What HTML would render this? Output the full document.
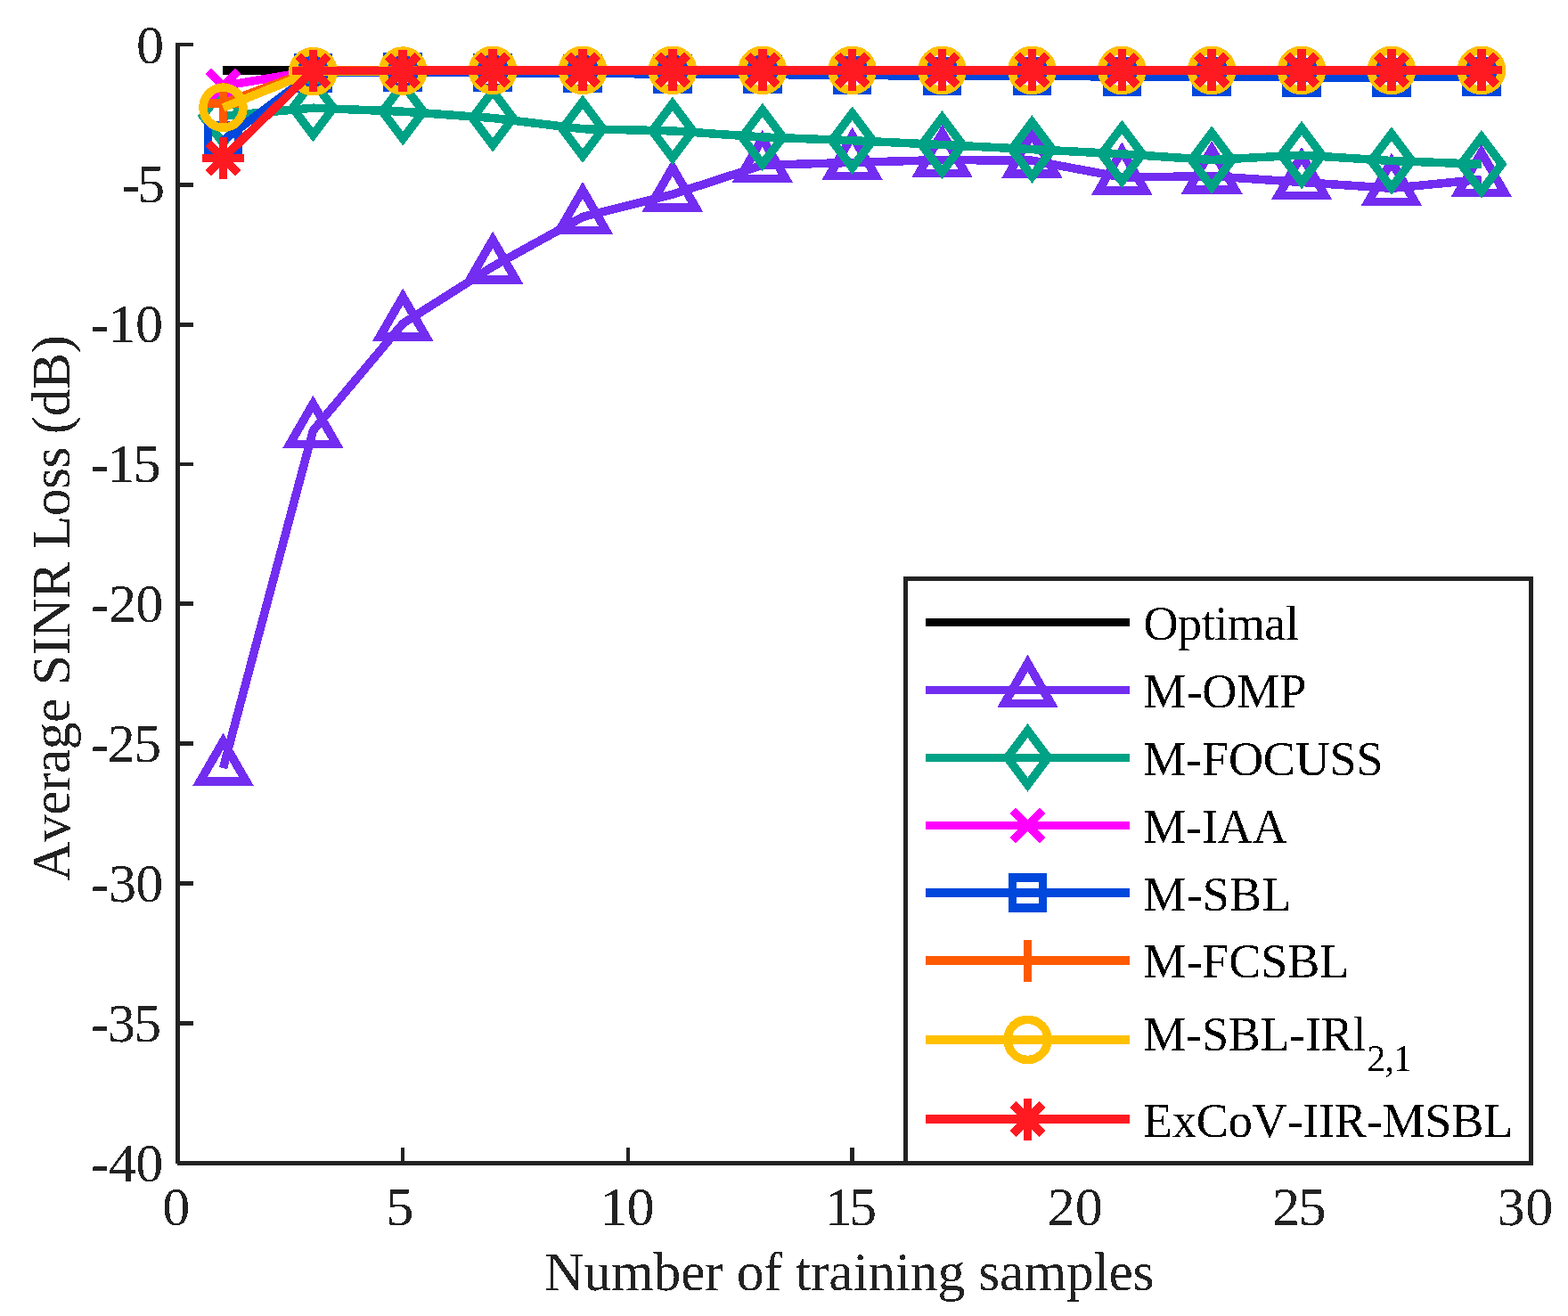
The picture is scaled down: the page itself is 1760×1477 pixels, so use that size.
<!DOCTYPE html>
<html lang="en">
<head>
<meta charset="utf-8">
<title>Average SINR Loss versus number of training samples</title>
<style>
html,body{margin:0;padding:0;background:#fff;}
body{width:1760px;height:1477px;overflow:hidden;}
svg{display:block;font-family:"Liberation Serif","Times New Roman",Times,serif;font-kerning:none;}
text{white-space:pre;}
</style>
</head>
<body>
<svg width="1760" height="1477" viewBox="0 0 1760 1477" shape-rendering="crispEdges">
<rect width="1760" height="1477" fill="#fff"/>
<defs>
<path id="tri" d="M0 -30.1L26.07 15.05L-26.07 15.05Z"/>
<path id="dia" d="M0 -30.4L22.8 0L0 30.4L-22.8 0Z"/>
<path id="x" d="M-16.62 -16.62L16.62 16.62M-16.62 16.62L16.62 -16.62"/>
<path id="sq" d="M-17 -17H17V17H-17Z"/>
<path id="plus" d="M-23.5 0H23.5M0 -23.5V23.5"/>
<circle id="circ" cx="0" cy="0" r="22.5"/>
<path id="ast" d="M-23.5 0H23.5M0 -23.5V23.5M-16.62 -16.62L16.62 16.62M-16.62 16.62L16.62 -16.62"/>
<filter id="alias" filterUnits="userSpaceOnUse" x="0" y="0" width="1760" height="1477" color-interpolation-filters="sRGB"><feComponentTransfer><feFuncA type="discrete" tableValues="0 1"/></feComponentTransfer></filter>
</defs>
<g fill="#222222">
<rect x="197" y="48" width="5" height="1258"/>
<rect x="199" y="1303" width="1520" height="5"/>
<rect x="199" y="48" width="18" height="4"/>
<rect x="199" y="205" width="18" height="5"/>
<rect x="199" y="362" width="18" height="5"/>
<rect x="199" y="519" width="18" height="4"/>
<rect x="199" y="675" width="18" height="5"/>
<rect x="199" y="832" width="18" height="5"/>
<rect x="199" y="989" width="18" height="5"/>
<rect x="199" y="1146" width="18" height="5"/>
<rect x="450" y="1288" width="4" height="17"/>
<rect x="703" y="1288" width="4" height="17"/>
<rect x="954" y="1288" width="5" height="17"/>
<rect x="1207" y="1288" width="4" height="17"/>
<rect x="1459" y="1288" width="5" height="17"/>
<rect x="1711" y="1288" width="4" height="17"/>
</g>
<g fill="#222222" font-size="61.6" filter="url(#alias)">
<g font-size="62.2">
<text x="153.09" y="70.5">0</text>
<text x="136.56" y="227.44" textLength="48.5">-5</text>
<text x="101.56" y="384.38" textLength="81.45">-10</text>
<text x="101.56" y="541.31" textLength="79.13">-15</text>
<text x="102.0" y="698.25" textLength="81.23">-20</text>
<text x="102.0" y="855.19" textLength="79.01">-25</text>
<text x="102.0" y="1012.12" textLength="81.23">-30</text>
<text x="102.0" y="1169.06" textLength="79.01">-35</text>
<text x="102.0" y="1326" textLength="81.23">-40</text>
<text x="182.16" y="1375.2">0</text>
<text x="433.13" y="1375.2">5</text>
<text x="673.52" y="1375.2" textLength="61.13">10</text>
<text x="925.96" y="1375.2" textLength="58.05">15</text>
<text x="1175.74" y="1375.2" textLength="62.22">20</text>
<text x="1428.0" y="1375.2" textLength="60.69">25</text>
<text x="1680.52" y="1375.2" textLength="62.81">30</text>
</g>
<text x="611" y="1448" textLength="684.53">Number of training samples</text>
<text transform="translate(77.9 989) rotate(-90)" textLength="613.07">Average SINR Loss (dB)</text>
</g>
<g id="plot">
<g stroke="#000000" fill="none" stroke-width="10">
<polyline points="249.9,79 351.38,79 452.26,79 553.14,79 654.02,79 754.9,79 855.78,79 956.66,79 1057.54,79 1158.42,79 1259.3,79 1360.18,79 1461.06,79 1561.94,79 1662.82,79" stroke-linejoin="round"/>
</g>
<g stroke="#722df0" fill="none" stroke-width="9.5">
<polyline points="250.5,862.2 351.38,483.3 452.26,363.1 553.14,299.2 654.02,243.5 754.9,218.1 855.78,185.4 956.66,182.4 1057.54,179.5 1158.42,180.2 1259.3,199 1360.18,197.7 1461.06,204.5 1561.94,211.3 1662.82,201.4" stroke-linejoin="round"/>
<g stroke-width="9.6" stroke-linejoin="miter" stroke-miterlimit="10">
<use href="#tri" x="250.5" y="862.2"/>
<use href="#tri" x="351.38" y="483.3"/>
<use href="#tri" x="452.26" y="363.1"/>
<use href="#tri" x="553.14" y="299.2"/>
<use href="#tri" x="654.02" y="243.5"/>
<use href="#tri" x="754.9" y="218.1"/>
<use href="#tri" x="855.78" y="185.4"/>
<use href="#tri" x="956.66" y="182.4"/>
<use href="#tri" x="1057.54" y="179.5"/>
<use href="#tri" x="1158.42" y="180.2"/>
<use href="#tri" x="1259.3" y="199"/>
<use href="#tri" x="1360.18" y="197.7"/>
<use href="#tri" x="1461.06" y="204.5"/>
<use href="#tri" x="1561.94" y="211.3"/>
<use href="#tri" x="1662.82" y="201.4"/>
</g>
</g>
<g stroke="#00a285" fill="none" stroke-width="9.5">
<polyline points="250.5,130.2 351.38,121.2 452.26,125.2 553.14,132.5 654.02,144.7 754.9,146.9 855.78,153.9 956.66,157.7 1057.54,162.5 1158.42,167.6 1259.3,172.85 1360.18,179.5 1461.06,174.1 1561.94,180.5 1662.82,184.3" stroke-linejoin="round"/>
<g stroke-width="9.6" stroke-linejoin="miter" stroke-miterlimit="10">
<use href="#dia" x="250.5" y="130.2"/>
<use href="#dia" x="351.38" y="121.2"/>
<use href="#dia" x="452.26" y="125.2"/>
<use href="#dia" x="553.14" y="132.5"/>
<use href="#dia" x="654.02" y="144.7"/>
<use href="#dia" x="754.9" y="146.9"/>
<use href="#dia" x="855.78" y="153.9"/>
<use href="#dia" x="956.66" y="157.7"/>
<use href="#dia" x="1057.54" y="162.5"/>
<use href="#dia" x="1158.42" y="167.6"/>
<use href="#dia" x="1259.3" y="172.85"/>
<use href="#dia" x="1360.18" y="179.5"/>
<use href="#dia" x="1461.06" y="174.1"/>
<use href="#dia" x="1561.94" y="180.5"/>
<use href="#dia" x="1662.82" y="184.3"/>
</g>
</g>
<g stroke="#ff00ff" fill="none" stroke-width="9.5">
<polyline points="250.5,96.5 351.38,79.45 452.26,79.3 553.14,79 654.02,79 754.9,79 855.78,79 956.66,79 1057.54,79 1158.42,79 1259.3,79 1360.18,79 1461.06,79 1561.94,79 1662.82,79" stroke-linejoin="round"/>
<g stroke-width="9.6" stroke-linejoin="miter" stroke-miterlimit="10">
<use href="#x" x="250.5" y="96.5"/>
<use href="#x" x="351.38" y="79.45"/>
<use href="#x" x="452.26" y="79.3"/>
<use href="#x" x="553.14" y="79"/>
<use href="#x" x="654.02" y="79"/>
<use href="#x" x="754.9" y="79"/>
<use href="#x" x="855.78" y="79"/>
<use href="#x" x="956.66" y="79"/>
<use href="#x" x="1057.54" y="79"/>
<use href="#x" x="1158.42" y="79"/>
<use href="#x" x="1259.3" y="79"/>
<use href="#x" x="1360.18" y="79"/>
<use href="#x" x="1461.06" y="79"/>
<use href="#x" x="1561.94" y="79"/>
<use href="#x" x="1662.82" y="79"/>
</g>
</g>
<g stroke="#0047dc" fill="none" stroke-width="9.5">
<polyline points="250.5,157.6 351.38,81.9 452.26,81 553.14,81.6 654.02,82.3 754.9,83.1 855.78,83.5 956.66,84.4 1057.54,85.3 1158.42,85.3 1259.3,86 1360.18,86 1461.06,87 1561.94,86.9 1662.82,86.2" stroke-linejoin="round"/>
<g stroke-width="9.6" stroke-linejoin="miter" stroke-miterlimit="10">
<use href="#sq" x="250.5" y="157.6"/>
<use href="#sq" x="351.38" y="81.9"/>
<use href="#sq" x="452.26" y="81"/>
<use href="#sq" x="553.14" y="81.6"/>
<use href="#sq" x="654.02" y="82.3"/>
<use href="#sq" x="754.9" y="83.1"/>
<use href="#sq" x="855.78" y="83.5"/>
<use href="#sq" x="956.66" y="84.4"/>
<use href="#sq" x="1057.54" y="85.3"/>
<use href="#sq" x="1158.42" y="85.3"/>
<use href="#sq" x="1259.3" y="86"/>
<use href="#sq" x="1360.18" y="86"/>
<use href="#sq" x="1461.06" y="87"/>
<use href="#sq" x="1561.94" y="86.9"/>
<use href="#sq" x="1662.82" y="86.2"/>
</g>
</g>
<g stroke="#ff5a00" fill="none" stroke-width="9.5">
<polyline points="250.5,116 351.38,78.6 452.26,78.6 553.14,78.6 654.02,78.6 754.9,78.6 855.78,78.6 956.66,78.6 1057.54,78.6 1158.42,78.6 1259.3,78.6 1360.18,78.6 1461.06,78.6 1561.94,78.6 1662.82,78.6" stroke-linejoin="round"/>
<g stroke-width="9.6" stroke-linejoin="miter" stroke-miterlimit="10">
<use href="#plus" x="250.5" y="116"/>
<use href="#plus" x="351.38" y="78.6"/>
<use href="#plus" x="452.26" y="78.6"/>
<use href="#plus" x="553.14" y="78.6"/>
<use href="#plus" x="654.02" y="78.6"/>
<use href="#plus" x="754.9" y="78.6"/>
<use href="#plus" x="855.78" y="78.6"/>
<use href="#plus" x="956.66" y="78.6"/>
<use href="#plus" x="1057.54" y="78.6"/>
<use href="#plus" x="1158.42" y="78.6"/>
<use href="#plus" x="1259.3" y="78.6"/>
<use href="#plus" x="1360.18" y="78.6"/>
<use href="#plus" x="1461.06" y="78.6"/>
<use href="#plus" x="1561.94" y="78.6"/>
<use href="#plus" x="1662.82" y="78.6"/>
</g>
</g>
<g stroke="#ffc000" fill="none" stroke-width="9.5">
<polyline points="250.5,120.7 351.38,80.2 452.26,79.6 553.14,78.9 654.02,78.9 754.9,78.9 855.78,78.9 956.66,78.9 1057.54,78.9 1158.42,78.9 1259.3,78.9 1360.18,78.9 1461.06,78.9 1561.94,78.9 1662.82,78.9" stroke-linejoin="round"/>
<g stroke-width="9.6" stroke-linejoin="miter" stroke-miterlimit="10">
<use href="#circ" x="250.5" y="120.7"/>
<use href="#circ" x="351.38" y="80.2"/>
<use href="#circ" x="452.26" y="79.6"/>
<use href="#circ" x="553.14" y="78.9"/>
<use href="#circ" x="654.02" y="78.9"/>
<use href="#circ" x="754.9" y="78.9"/>
<use href="#circ" x="855.78" y="78.9"/>
<use href="#circ" x="956.66" y="78.9"/>
<use href="#circ" x="1057.54" y="78.9"/>
<use href="#circ" x="1158.42" y="78.9"/>
<use href="#circ" x="1259.3" y="78.9"/>
<use href="#circ" x="1360.18" y="78.9"/>
<use href="#circ" x="1461.06" y="78.9"/>
<use href="#circ" x="1561.94" y="78.9"/>
<use href="#circ" x="1662.82" y="78.9"/>
</g>
</g>
<g stroke="#ff1a21" fill="none" stroke-width="9.5">
<polyline points="250.5,177.4 351.38,79.45 452.26,79.3 553.14,79 654.02,79 754.9,79 855.78,79 956.66,79 1057.54,79 1158.42,79 1259.3,79 1360.18,79 1461.06,79 1561.94,79 1662.82,79" stroke-linejoin="round"/>
<g stroke-width="9.6" stroke-linejoin="miter" stroke-miterlimit="10">
<use href="#ast" x="250.5" y="177.4"/>
<use href="#ast" x="351.38" y="79.5"/>
<use href="#ast" x="452.26" y="79.5"/>
<use href="#ast" x="553.14" y="78.6"/>
<use href="#ast" x="654.02" y="78.6"/>
<use href="#ast" x="754.9" y="78.6"/>
<use href="#ast" x="855.78" y="78.6"/>
<use href="#ast" x="956.66" y="78.6"/>
<use href="#ast" x="1057.54" y="78.6"/>
<use href="#ast" x="1158.42" y="78.6"/>
<use href="#ast" x="1259.3" y="78.6"/>
<use href="#ast" x="1360.18" y="78.6"/>
<use href="#ast" x="1461.06" y="78.6"/>
<use href="#ast" x="1561.94" y="78.6"/>
<use href="#ast" x="1662.82" y="78.6"/>
</g>
</g>
</g>
<g id="legend">
<rect x="1016.5" y="649.5" width="702" height="656" fill="#fff" stroke="#222222" stroke-width="5"/>
<g stroke="#000000" fill="none" stroke-width="9.5">
<path d="M1039 698.4H1268"/>
</g>
<g stroke="#722df0" fill="none" stroke-width="9.5">
<path d="M1039 774.4H1268"/>
<use href="#tri" x="1153.5" y="774.4" stroke-width="9.6" stroke-miterlimit="10"/>
</g>
<g stroke="#00a285" fill="none" stroke-width="9.5">
<path d="M1039 850.4H1268"/>
<use href="#dia" x="1153.5" y="850.4" stroke-width="9.6" stroke-miterlimit="10"/>
</g>
<g stroke="#ff00ff" fill="none" stroke-width="9.5">
<path d="M1039 926.5H1268"/>
<use href="#x" x="1153.5" y="926.5" stroke-width="9.6" stroke-miterlimit="10"/>
</g>
<g stroke="#0047dc" fill="none" stroke-width="9.5">
<path d="M1039 1002H1268"/>
<use href="#sq" x="1153.5" y="1002" stroke-width="9.6" stroke-miterlimit="10"/>
</g>
<g stroke="#ff5a00" fill="none" stroke-width="9.5">
<path d="M1039 1078H1268"/>
<use href="#plus" x="1153.5" y="1078" stroke-width="9.6" stroke-miterlimit="10"/>
</g>
<g stroke="#ffc000" fill="none" stroke-width="9.5">
<path d="M1039 1166.9H1268"/>
<use href="#circ" x="1153.5" y="1166.9" stroke-width="9.6" stroke-miterlimit="10"/>
</g>
<g stroke="#ff1a21" fill="none" stroke-width="9.5">
<path d="M1039 1256H1268"/>
<use href="#ast" x="1153.5" y="1256" stroke-width="9.6" stroke-miterlimit="10"/>
</g>
<g fill="#000" font-size="54.2" filter="url(#alias)">
<text x="1283.48" y="718.2" textLength="174.47">Optimal</text>
<text x="1283.36" y="794.0" textLength="183.11">M-OMP</text>
<text x="1283.36" y="869.6" textLength="269.25">M-FOCUSS</text>
<text x="1283.36" y="945.9" textLength="161.43">M-IAA</text>
<text x="1283.36" y="1021.8" textLength="166.15">M-SBL</text>
<text x="1283.36" y="1097.2" textLength="231.11">M-FCSBL</text>
<text x="1283.36" y="1178.9" textLength="250.13">M-SBL-IRl</text>
<text x="1283.12" y="1276.0" textLength="415.13">ExCoV-IIR-MSBL</text>
<text x="1534.52" y="1202.1" font-size="41.6" textLength="50.34">2,1</text>
</g>
</g>
</svg>
</body>
</html>
